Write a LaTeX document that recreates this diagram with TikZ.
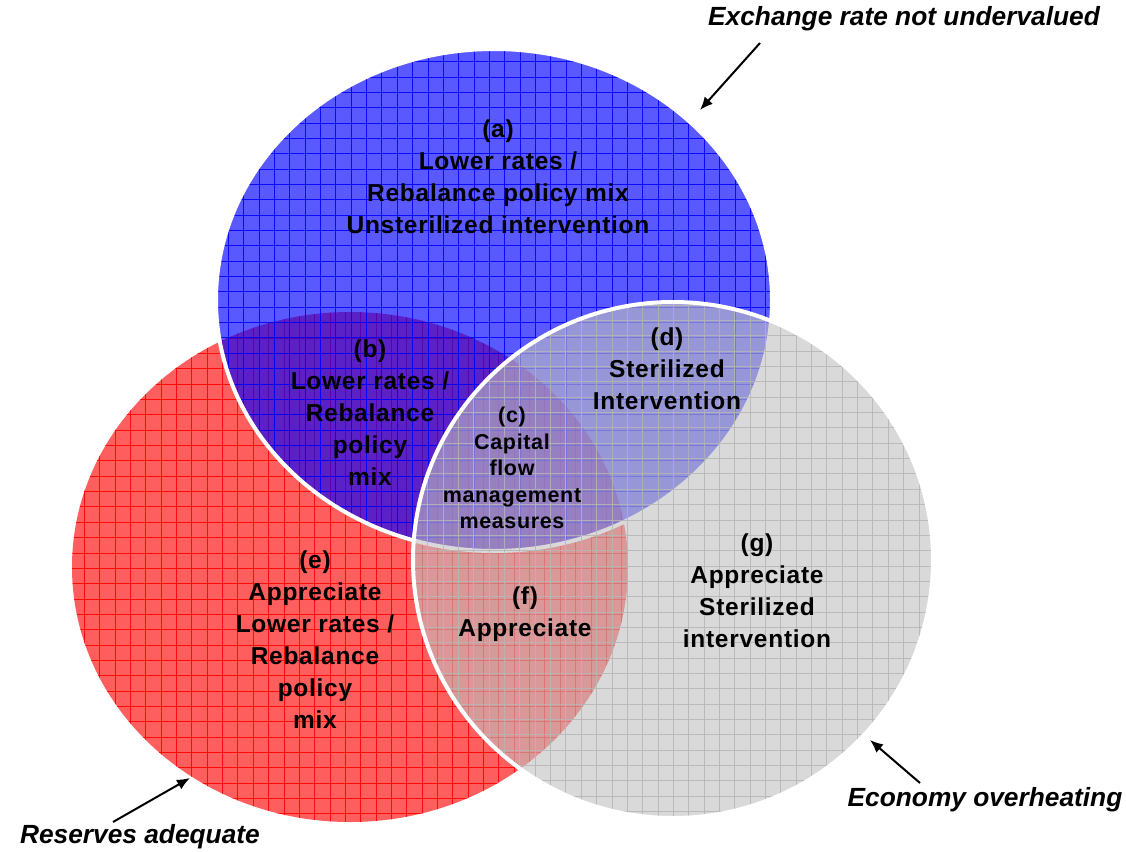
\documentclass[tikz,border=0pt]{standalone}
\usepackage{fontspec}
\setmainfont{Liberation Sans}
\usetikzlibrary{arrows.meta}

\definecolor{setgrey}{RGB}{192,192,192}
\definecolor{gridgrey}{RGB}{182,182,182}

\tikzset{
  region/.style={font=\bfseries\fontsize{24.5}{32}\selectfont\addfontfeatures{LetterSpace=3}, align=center, inner sep=0pt},
  small region/.style={font=\bfseries\fontsize{21.5}{26.5}\selectfont\addfontfeatures{LetterSpace=3}, align=center, inner sep=0pt},
  caption/.style={font=\bfseries\itshape\fontsize{26.3}{30}\selectfont, inner sep=0pt},
  pointer/.style={-{Latex[length=13pt,width=11pt]}, line width=2pt},
  rim/.style={draw=white, line width=4pt},
  mesh/.style={line width=1pt},
}

\begin{document}
\begin{tikzpicture}[x=1pt,y=-1pt]
  \useasboundingbox (0,0) rectangle (1126,851);

  % reserves adequate (left set)
  \begin{scope}
    \clip (350,567) ellipse [x radius=278pt, y radius=255pt];
    \fill[red, fill opacity=0.63] (60,300) rectangle (640,830);
    \foreach \i in {0,...,37}
      \draw[mesh, red, opacity=0.9] (69.1+\i*15.35,300) -- ++(0,540);
    \foreach \i in {0,...,34}
      \draw[mesh, red, opacity=0.9] (60,307.4+\i*15.35) -- ++(590,0);
  \end{scope}

  % exchange rate not undervalued (top set)
  \begin{scope}
    \clip (494,300) ellipse [x radius=278pt, y radius=251pt];
    \fill[blue, fill opacity=0.65] (210,40) rectangle (780,560);
    \foreach \i in {0,...,37}
      \draw[mesh, blue, opacity=0.9] (213.1+\i*15.35,40) -- ++(0,520);
    \foreach \i in {0,...,33}
      \draw[mesh, blue, opacity=0.9] (210,46.3+\i*15.35) -- ++(570,0);
  \end{scope}
  \draw[rim] (494,300) ellipse [x radius=278pt, y radius=251pt];

  % economy overheating (right set)
  \begin{scope}
    \clip (673,560) ellipse [x radius=260pt, y radius=258pt];
    \fill[setgrey, fill opacity=0.6] (405,290) rectangle (940,825);
    \foreach \i in {0,...,34}
      \draw[mesh, gridgrey, opacity=0.85] (412.45+\i*15.35,290) -- ++(0,535);
    \foreach \i in {0,...,35}
      \draw[mesh, gridgrey, opacity=0.85] (405,289.75+\i*15.35) -- ++(535,0);
  \end{scope}
  \draw[rim] (673,560) ellipse [x radius=260pt, y radius=258pt];

  % region texts
  \node[region] (a) at (498,177) {(a)\\Lower rates /\\Rebalance policy mix\\Unsterilized intervention};
  \node[region] (b) at (370,413) {(b)\\Lower rates /\\Rebalance\\policy\\mix};
  \node[small region] (c) at (512,468) {(c)\\Capital\\flow\\management\\measures};
  \node[region] (d) at (667,369) {(d)\\Sterilized\\Intervention};
  \node[region] (e) at (315,640) {(e)\\Appreciate\\Lower rates /\\Rebalance\\policy\\mix};
  \node[region] (f) at (525,614) {(f)\\Appreciate};
  \node[region] (g) at (757,591) {(g)\\Appreciate\\Sterilized\\intervention};

  % set captions and pointers
  \node[caption] (exch) at (904,19) {Exchange rate not undervalued};
  \node[caption] (econ) at (985,800) {Economy overheating};
  \node[caption] (resv) at (140,837) {Reserves adequate};

  \coordinate (exchtail) at (760,43);
  \coordinate (exchhead) at (700,110);
  \coordinate (econtail) at (920,783);
  \coordinate (econhead) at (870,740);
  \coordinate (resvtail) at (113,822);
  \coordinate (resvhead) at (190,778);

  \draw[pointer] (exchtail) -- (exchhead);
  \draw[pointer] (econtail) -- (econhead);
  \draw[pointer] (resvtail) -- (resvhead);
\end{tikzpicture}
\end{document}
